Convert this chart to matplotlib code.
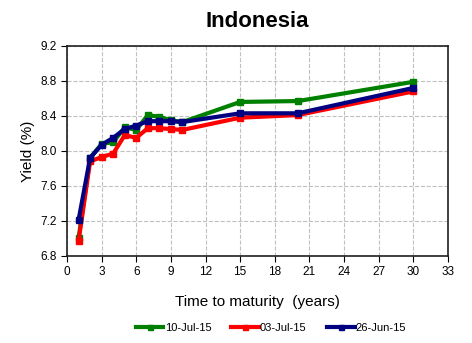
import matplotlib
matplotlib.use("Agg")
import matplotlib.pyplot as plt
import numpy as np

plt.rcParams["font.family"] = ["Liberation Sans Narrow", "Liberation Sans", "DejaVu Sans"]

maturity = [1, 2, 3, 4, 5, 6, 7, 8, 9, 10, 15, 20, 30]
jul10 = [7.00, 7.92, 8.08, 8.10, 8.27, 8.24, 8.41, 8.39, 8.35, 8.33, 8.56, 8.57, 8.79]
jul03 = [6.97, 7.88, 7.93, 7.97, 8.18, 8.15, 8.26, 8.26, 8.25, 8.24, 8.38, 8.41, 8.68]
jun26 = [7.21, 7.92, 8.07, 8.15, 8.25, 8.29, 8.34, 8.34, 8.34, 8.33, 8.43, 8.43, 8.72]

series = [("10-Jul-15", jul10, "#008000"), ("03-Jul-15", jul03, "#ff0000"), ("26-Jun-15", jun26, "#000080")]

fig = plt.figure(figsize=(4.72, 3.43), dpi=100)
ax = fig.add_axes([0.142, 0.254, 0.807, 0.612])

for label, vals, color in series:
    ax.plot(maturity, vals, color=color, linewidth=3, marker="s", markersize=4.5, label=label)

ax.set_xlim(0, 33)
ax.set_ylim(6.8, 9.2)
ax.set_xticks(np.arange(0, 34, 3))
ax.set_yticks(np.arange(6.8, 9.21, 0.4))
ax.yaxis.set_major_formatter(matplotlib.ticker.FormatStrFormatter("%.1f"))
ax.tick_params(labelsize=8.5, length=4, direction="out")
ax.grid(True, color="#c0c0c0", linestyle="--", linewidth=0.8)
for s in ax.spines.values():
    s.set_color("#202020")
    s.set_linewidth(1.2)

ax.set_title("Indonesia", fontsize=16, fontweight="bold", pad=14)
ax.set_xlabel("Time to maturity  (years)", fontsize=11, labelpad=12)
ax.set_ylabel("Yield (%)", fontsize=11, labelpad=4)

fig.legend(loc="lower center", bbox_to_anchor=(0.574, 0.0), ncol=3, frameon=False,
           fontsize=8, handlelength=2.5, handletextpad=0.1, columnspacing=1.8,
           markerscale=0.8)

fig.savefig("out.png", dpi=100)
